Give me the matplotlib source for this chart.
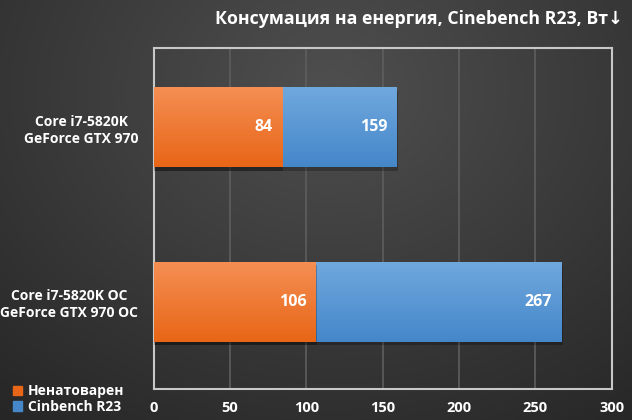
import numpy as np
import matplotlib
matplotlib.use("Agg")
from matplotlib import pyplot as plt
from matplotlib.patches import Patch

plt.rcParams["font.family"] = ["Open Sans", "DejaVu Sans"]
plt.rcParams["font.weight"] = "bold"

# данни
configs = ["Core i7-5820K OC\nGeForce GTX 970 OC", "Core i7-5820K\nGeForce GTX 970"]
idle = [106, 84]
cinebench = [267, 159]
series_names = ["Ненатоварен", "Cinbench R23"]
x_ticks = [0, 50, 100, 150, 200, 250, 300]

orange_top, orange_bot = np.array([0.96, 0.56, 0.33]), np.array([0.91, 0.40, 0.09])
blue_top, blue_bot = np.array([0.44, 0.66, 0.87]), np.array([0.27, 0.53, 0.79])

fig = plt.figure(figsize=(6.32, 4.2), dpi=100)

# фон с радиален градиент
bg = fig.add_axes([0, 0, 1, 1], zorder=-10)
yy, xx = np.mgrid[0:420, 0:632]
r = np.sqrt(((xx - 330) / 520) ** 2 + ((yy - 90) / 420) ** 2)
shade = np.clip(0.31 - 0.16 * r, 0.14, 0.31)
bg.imshow(np.dstack([shade] * 3), aspect="auto", extent=[0, 1, 0, 1])
bg.axis("off")

ax = fig.add_axes([0.243, 0.074, 0.725, 0.812])
ax.patch.set_alpha(0)

y = np.arange(len(configs))
h = 0.46


def grad_bar(bars, c_top, c_bot):
    grad = np.linspace(0, 1, 50)[:, None, None]
    img = c_top * (1 - grad) + c_bot * grad
    for b in bars:
        # сянка
        ax.barh(b.get_y() + b.get_height() / 2 - 0.02, b.get_width() + 1.0, height=h,
                color="black", alpha=0.25, zorder=b.get_zorder() - 0.5)
        im = ax.imshow(img, aspect="auto", zorder=b.get_zorder() + 0.1,
                       extent=[b.get_x(), b.get_x() + b.get_width(),
                               b.get_y(), b.get_y() + b.get_height()])
        im.set_clip_path(b)


b_blue = ax.barh(y, cinebench, height=h, color=blue_bot, zorder=3)
grad_bar(b_blue, blue_top, blue_bot)
b_orange = ax.barh(y, idle, height=h, color=orange_bot, zorder=5)
grad_bar(b_orange, orange_top, orange_bot)
ax.set_xlim(0, 300)
ax.set_ylim(-0.5, 1.455)

for yi, v in zip(y, idle):
    ax.text(v - 6, yi, str(v), ha="right", va="center", color="white",
            fontsize=11.5, fontweight="bold", zorder=10)
for yi, v in zip(y, cinebench):
    ax.text(v - 6, yi, str(v), ha="right", va="center", color="white",
            fontsize=11.5, fontweight="bold", zorder=10)

ax.set_xticks(x_ticks)
ax.set_xticklabels([str(t) for t in x_ticks], color="white", fontsize=10.5, fontweight="bold")
ax.set_yticks(y)
ax.set_yticklabels(configs, color="white", fontsize=10, fontweight="bold",
                   multialignment="center", linespacing=1.3)
ax.tick_params(length=0, pad=11)
ax.tick_params(axis="x", pad=9)
ax.grid(axis="x", color="#5e5e5e", linewidth=1.2, zorder=0)
ax.set_axisbelow(True)
for s in ax.spines.values():
    s.set_color("#c8c8c8")
    s.set_linewidth(1.5)

fig.text(0.985, 0.955, "Консумация на енергия, Cinebench R23, Вт\u2193", ha="right", va="center",
         color="white", fontsize=12.8, fontweight="bold")

handles = [Patch(color=orange_bot), Patch(color=blue_bot)]
fig.legend(handles, series_names, loc="lower left", bbox_to_anchor=(0.0, -0.015),
           frameon=False, labelcolor="white", handlelength=0.7,
           handleheight=0.7, handletextpad=0.4, labelspacing=0.1,
           prop={"weight": "bold", "size": 10})

fig.savefig("out.png", dpi=100)
